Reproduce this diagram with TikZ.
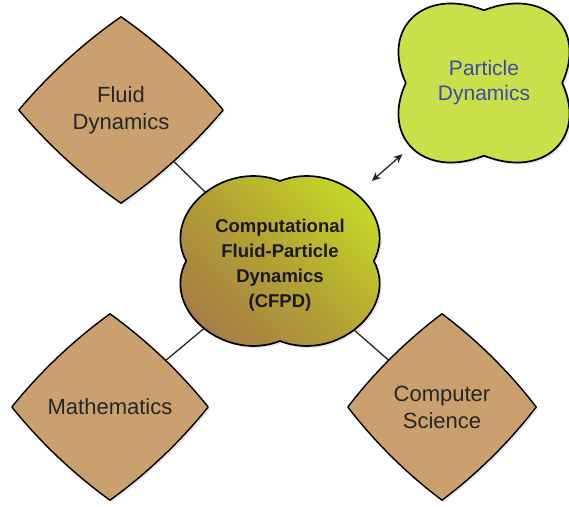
\documentclass[tikz,border=0pt]{standalone}
\usepackage{fontspec}
\setmainfont{Liberation Sans}
\usetikzlibrary{arrows.meta,positioning,calc,backgrounds,shapes.geometric,shadows}
\pgfdeclarelayer{links}
\pgfsetlayers{links,background,main}
\definecolor{cftan}{HTML}{C9A06E}
\definecolor{cflime}{HTML}{C9E04A}
\definecolor{cfbrown}{HTML}{A47A4A}
\definecolor{cfolive}{HTML}{B4A232}
\definecolor{cfgreen}{HTML}{C6DE26}
\definecolor{cfblue}{HTML}{3B4BA8}
% one outward-bulging side of a diamond, from anchor #1 to anchor #2
\newcommand{\gemside}[2]{%
  .. controls ($(#1)!0.33!(#2)!6pt!-90:(#2)$) and ($(#1)!0.67!(#2)!6pt!-90:(#2)$) .. (#2)}
% curved diamond round a node
\newcommand{\gemoutline}[1]{%
  \path[gem] (#1.north) \gemside{#1.north}{#1.west} \gemside{#1.west}{#1.south}
    \gemside{#1.south}{#1.east} \gemside{#1.east}{#1.north} -- cycle;}
% four-lobed cloud: centre, half width, half height, control factors, style
\newcommand{\puffoutline}[6]{%
  \begin{scope}[shift={(#1.center)}]
    \path[#6] (0,0.92*#3)
      .. controls (-#4*#2,#5*#3) and (-#5*#2,#4*#3) .. (-0.92*#2,0)
      .. controls (-#5*#2,-#4*#3) and (-#4*#2,-#5*#3) .. (0,-0.92*#3)
      .. controls (#4*#2,-#5*#3) and (#5*#2,-#4*#3) .. (0.92*#2,0)
      .. controls (#5*#2,#4*#3) and (#4*#2,#5*#3) .. (0,0.92*#3) -- cycle;
  \end{scope}}
\tikzset{
  topic/.style  = {diamond, align=center, inner sep=0pt,
                   font=\fontsize{22}{27}\selectfont, text=black!85},
  gem/.style    = {draw=black, line width=1.4pt, line join=round, fill=cftan,
                   drop shadow={opacity=0.18, shadow xshift=2pt,
                                shadow yshift=-2pt}},
  puffnode/.style = {ellipse, align=center, inner sep=0pt},
  puff/.style   = {draw=black, line width=1.7pt,
                   drop shadow={opacity=0.18, shadow xshift=2pt,
                                shadow yshift=-2pt}},
  link/.style   = {draw=black!85, line width=1.3pt},
  twoway/.style = {{Stealth[length=9pt,width=8pt]}-{Stealth[length=9pt,width=8pt]},
                   draw=black!85, line width=1.3pt},
}
\begin{document}
\begin{tikzpicture}[x=1pt,y=1pt]
  \useasboundingbox (0,0) rectangle (569,506);

  % the four subject areas
  \node[topic, minimum width=204pt, minimum height=186pt] (fd) at (121,396)
    {Fluid\\Dynamics};
  \node[topic, minimum width=196pt, minimum height=186pt] (ma) at (110,99)
    {Mathematics};
  \node[topic, minimum width=188pt, minimum height=186pt] (cs) at (442,99)
    {Computer\\Science};

  \node[puffnode, minimum width=168pt, minimum height=150pt,
        font=\fontsize{21}{25}\selectfont, text=cfblue] (pd) at (484,423)
    {Particle\\Dynamics};

  % the central topic
  \coordinate (cfpdmid) at (280,245);
  \node[puffnode, minimum width=190pt, minimum height=160pt,
        font=\fontsize{18.5}{25}\selectfont\bfseries, text=black!90]
    (cfpd) at ([yshift=-4pt]cfpdmid)
    {Computational\\Fluid-Particle\\Dynamics\\(CFPD)};

  \begin{scope}[on background layer]
    \gemoutline{fd}
    \gemoutline{ma}
    \gemoutline{cs}
    \puffoutline{pd}{85}{79}{0.7}{1.22}{puff, fill=cflime}
    \puffoutline{cfpdmid}{102}{87}{0.55}{1.17}{puff, bottom color=cfbrown,
      top color=cfgreen, middle color=cfolive, shading angle=-45}
  \end{scope}

  \begin{pgfonlayer}{links}
    \draw[link] (fd) -- (cfpd);
    \draw[link] (ma) -- (cfpd);
    \draw[link] (cs) -- (cfpd);
  \end{pgfonlayer}
  \draw[twoway] ($(cfpdmid)!0.45!(pd)$) -- ($(cfpdmid)!0.6!(pd)$);

\end{tikzpicture}
\end{document}
